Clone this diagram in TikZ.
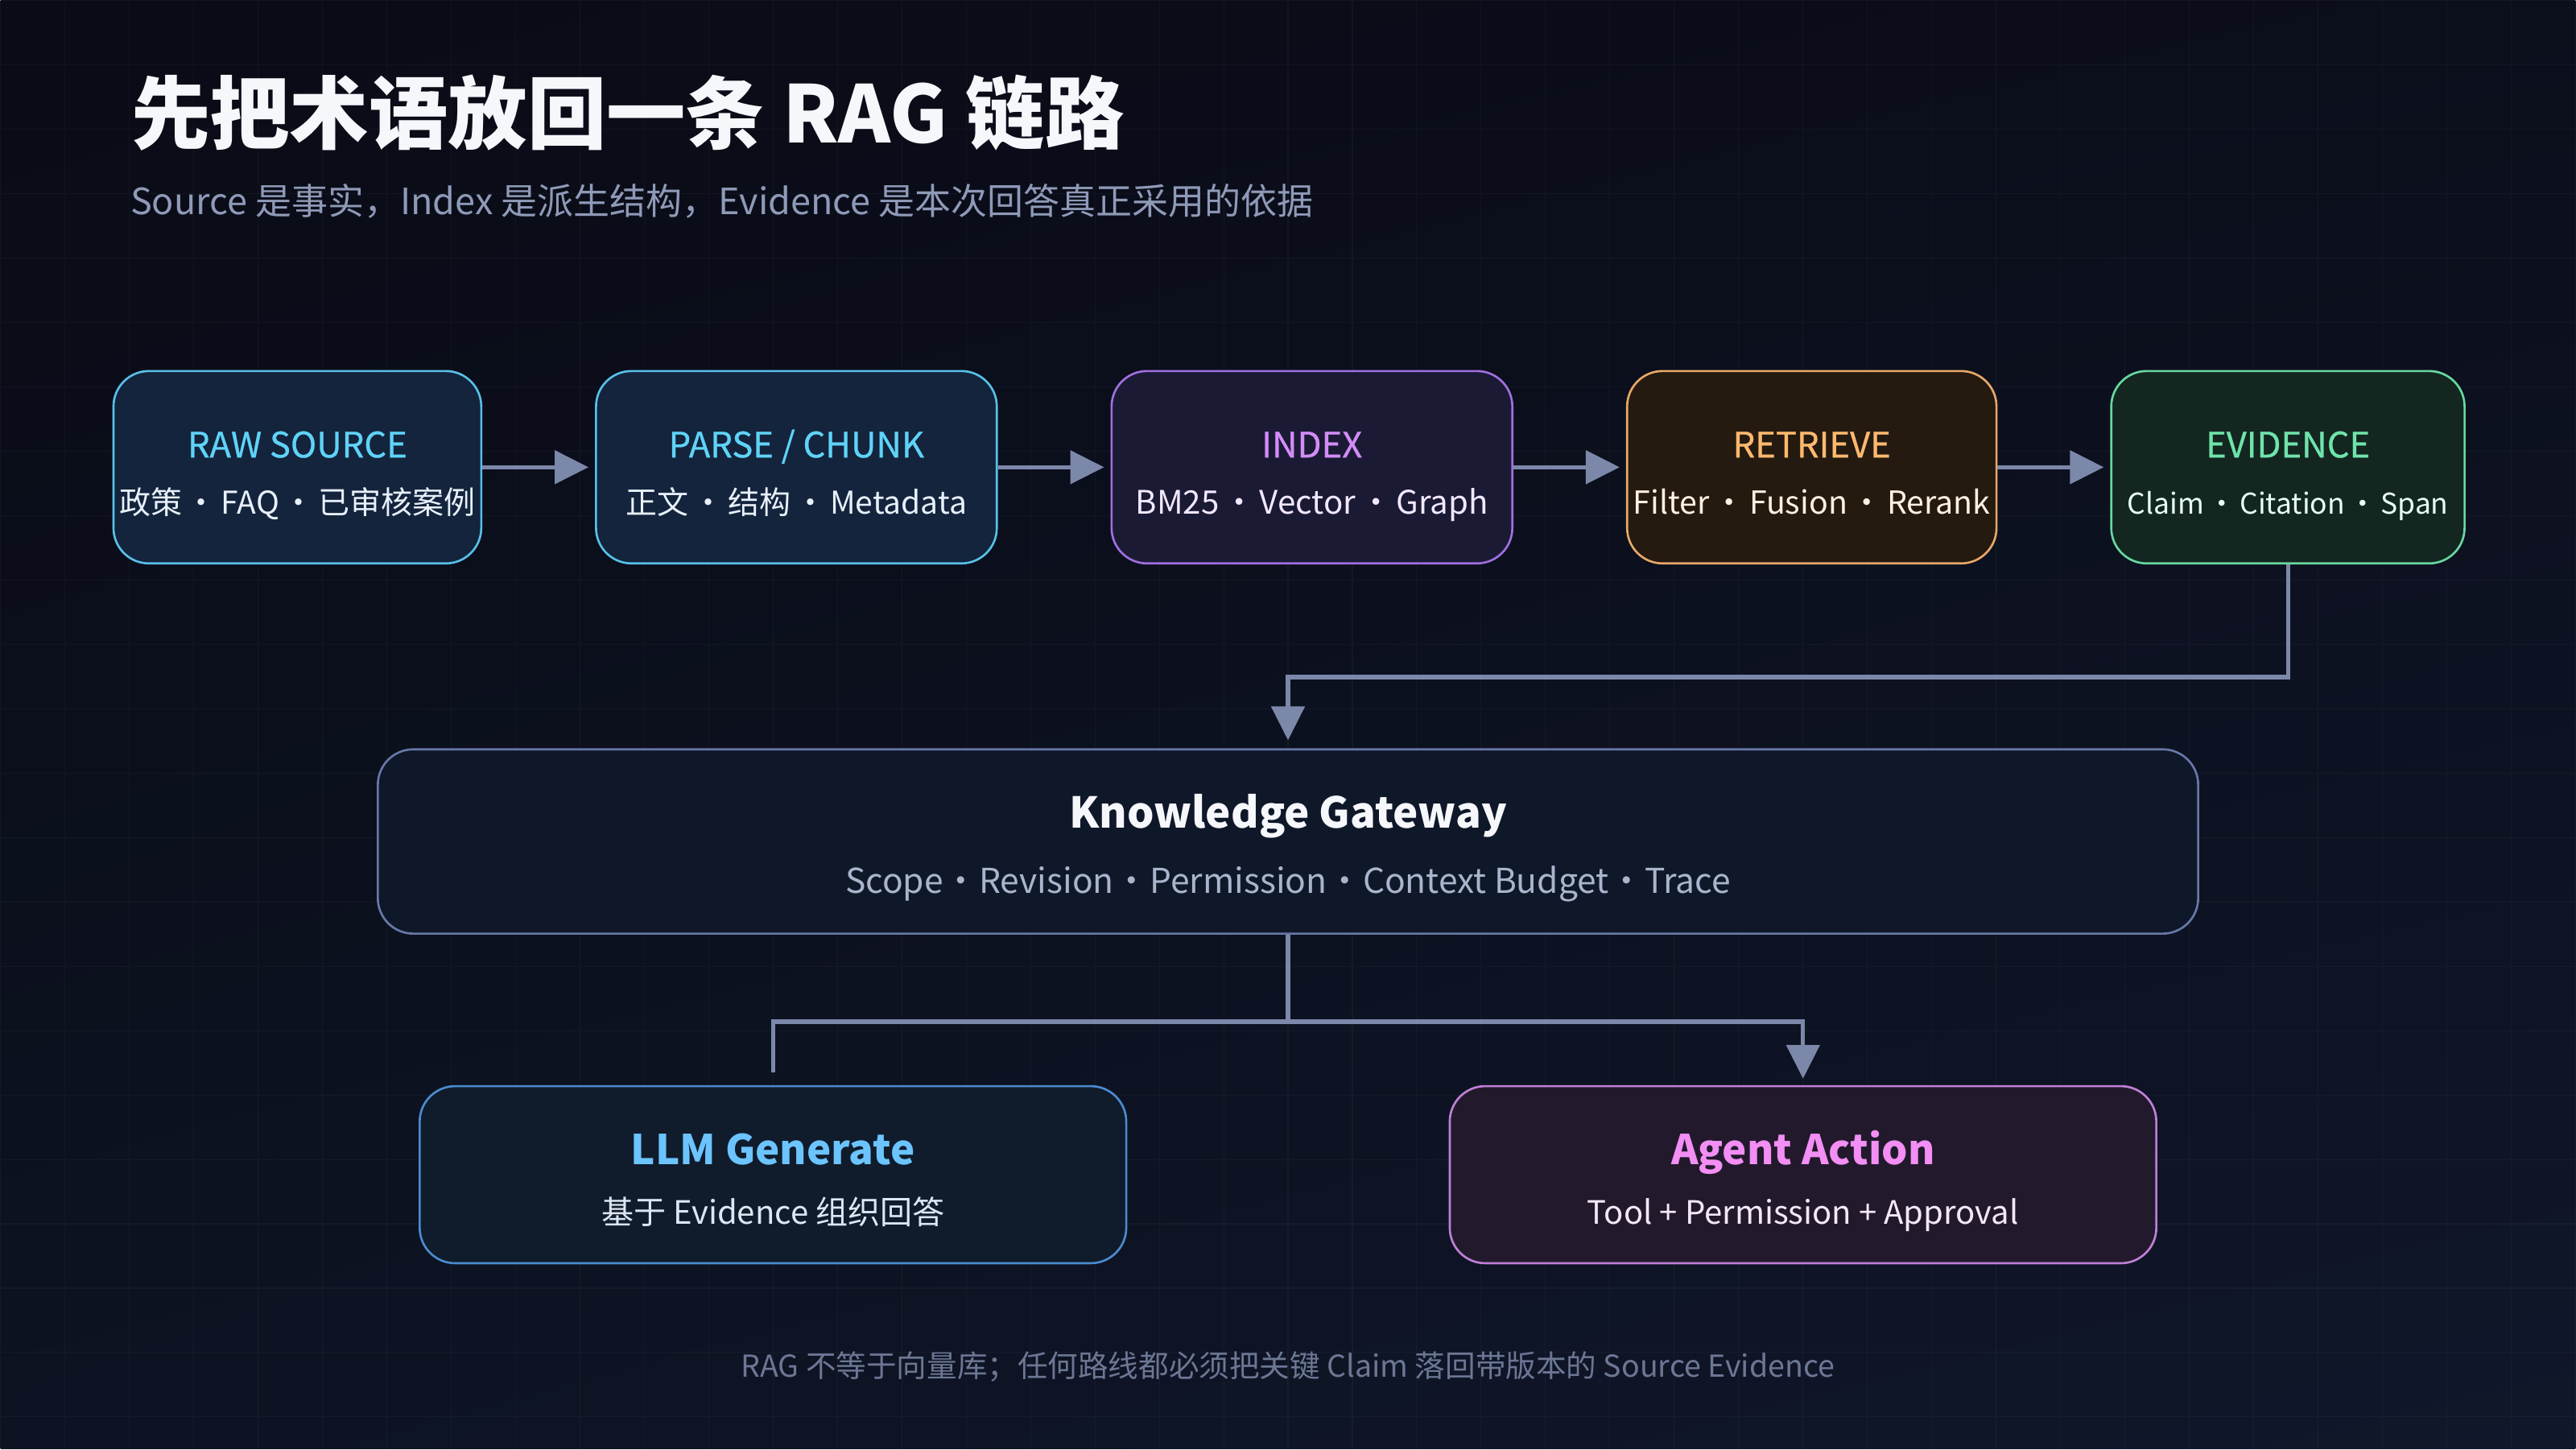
\documentclass[tikz,border=0pt]{standalone}
\usepackage{fontspec}
\setmainfont{Noto Sans CJK SC}
\newfontfamily\heavyish{Noto Sans CJK SC}[FakeBold=0.6]
\usetikzlibrary{arrows.meta,positioning,shadings}

\definecolor{bgtl}{HTML}{090B15}
\definecolor{bgtr}{HTML}{0B0E1B}
\definecolor{bgbl}{HTML}{0D1322}
\definecolor{bgbr}{HTML}{10172A}
\definecolor{linkc}{HTML}{7C88AA}
\definecolor{headc}{HTML}{F5F7FB}
\definecolor{subc}{HTML}{8F9AB8}
\definecolor{notec}{HTML}{6C7794}
\definecolor{cyanline}{HTML}{58C0E8}
\definecolor{cyanfill}{HTML}{13243C}
\definecolor{cyantext}{HTML}{5FD3F7}
\definecolor{cyansub}{HTML}{E8F0FA}
\definecolor{violetline}{HTML}{A070E0}
\definecolor{violetfill}{HTML}{1B1A35}
\definecolor{violettext}{HTML}{D38CF7}
\definecolor{violetsub}{HTML}{F1E8FF}
\definecolor{amberline}{HTML}{E8A868}
\definecolor{amberfill}{HTML}{241A10}
\definecolor{ambertext}{HTML}{FFB96E}
\definecolor{ambersub}{HTML}{FFF1E0}
\definecolor{mintline}{HTML}{68D8A0}
\definecolor{mintfill}{HTML}{132620}
\definecolor{minttext}{HTML}{6FE3AB}
\definecolor{mintsub}{HTML}{E8FFF2}
\definecolor{gateline}{HTML}{6878A8}
\definecolor{gatefill}{HTML}{0F1829}
\definecolor{gatesub}{HTML}{AAB4CC}
\definecolor{llmline}{HTML}{4A8CD0}
\definecolor{llmfill}{HTML}{101C2C}
\definecolor{llmtext}{HTML}{6CC4FF}
\definecolor{llmsub}{HTML}{DDE6F2}
\definecolor{agentline}{HTML}{C080D8}
\definecolor{agentfill}{HTML}{221A2C}
\definecolor{agenttext}{HTML}{F28EF4}
\definecolor{agentsub}{HTML}{F4E8F8}

\newcommand\dotsep[1][1.25em]{\makebox[#1]{·}}
\newcommand\stagehead[1]{\rule{0pt}{14.5pt}\fontsize{12.4}{20}\selectfont\heavyish\color{#1}}

\tikzset{
  stage/.style={draw, line width=0.75pt, rounded corners=0.44cm, minimum height=2.39cm,
    align=center, inner sep=0pt, text depth=1.4pt, font=\fontsize{11}{20}\selectfont},
  hub/.style={stage, minimum height=2.29cm, font=\fontsize{12.1}{23}\selectfont},
  sink/.style={stage, minimum width=8.78cm, minimum height=2.20cm, font=\fontsize{11.4}{21}\selectfont},
  link/.style={line width=1.5pt, draw=linkc},
  flow/.style={link, -{Triangle[length=0.42cm,width=0.41cm]}},
}

\begin{document}
\begin{tikzpicture}
\shade[upper left=bgtl, upper right=bgtr, lower left=bgbl, lower right=bgbr] (0,0) rectangle (32,-18);
\draw[white, opacity=0.035, line width=0.3pt] (0,0) grid[step=0.8] (32,-18);
\useasboundingbox (0,0) rectangle (32,-18);

\node[anchor=west, inner sep=0pt, headc, font=\fontsize{28}{34}\selectfont\bfseries] (title) at (1.62,-1.40) {先把术语放回一条 RAG 链路};
\node[anchor=west, inner sep=0pt, subc, font=\fontsize{12.8}{16}\selectfont] (subtitle) at (1.61,-2.49) {Source 是事实，Index 是派生结构，Evidence 是本次回答真正采用的依据};

% pipeline
\node[stage, draw=cyanline, fill=cyanfill, minimum width=4.57cm, font=\fontsize{11.1}{20}\selectfont] (raw) at (3.69,-5.80)
  {{\stagehead{cyantext}RAW SOURCE}\\{\color{cyansub}政策\dotsep FAQ\dotsep 已审核案例}};
\node[stage, draw=cyanline, fill=cyanfill, minimum width=4.98cm, font=\fontsize{11.1}{20}\selectfont, right=1.40cm of raw] (parse)
  {{\stagehead{cyantext}PARSE / CHUNK}\\{\color{cyansub}正文\dotsep 结构\dotsep Metadata}};
\node[stage, draw=violetline, fill=violetfill, minimum width=4.98cm, font=\fontsize{11.45}{20}\selectfont, right=1.40cm of parse] (index)
  {{\stagehead{violettext}INDEX}\\{\color{violetsub}BM25\dotsep Vector\dotsep Graph}};
\node[stage, draw=amberline, fill=amberfill, minimum width=4.59cm, font=\fontsize{11.2}{20}\selectfont, right=1.40cm of index] (retrieve)
  {{\stagehead{ambertext}RETRIEVE}\\{\color{ambersub}Filter\dotsep Fusion\dotsep Rerank}};
\node[stage, draw=mintline, fill=mintfill, minimum width=4.39cm, font=\fontsize{10.1}{20}\selectfont, right=1.40cm of retrieve] (evidence)
  {{\stagehead{minttext}EVIDENCE}\\{\color{mintsub}Claim\dotsep Citation\dotsep Span}};

\draw[flow, shorten >=0.08cm] (raw) -- (parse);
\draw[flow, shorten >=0.08cm] (parse) -- (index);
\draw[flow, shorten >=0.08cm] (index) -- (retrieve);
\draw[flow, shorten >=0.08cm] (retrieve) -- (evidence);

% gateway
\node[hub, draw=gateline, fill=gatefill, minimum width=22.62cm] (gateway) at (16.0,-10.45)
  {{\rule{0pt}{14.8pt}\fontsize{15}{23}\selectfont\bfseries\color{headc}Knowledge Gateway}\\{\color{gatesub}Scope\dotsep[1.05em]Revision\dotsep[1.05em]Permission\dotsep[1.05em]Context Budget\dotsep[1.05em]Trace}};
\draw[flow, shorten >=0.1cm] (evidence.south) -- ++(0,-1.40) -| (gateway.north);

% consumers
\node[sink, draw=llmline, fill=llmfill] (llm) at (9.60,-14.59)
  {{\rule{0pt}{15.2pt}\fontsize{14.5}{21}\selectfont\bfseries\color{llmtext}LLM Generate}\\{\color{llmsub}基于 Evidence 组织回答}};
\node[sink, draw=agentline, fill=agentfill] (agent) at (22.40,-14.59)
  {{\rule{0pt}{15.2pt}\fontsize{14.5}{21}\selectfont\bfseries\color{agenttext}Agent Action}\\{\color{agentsub}Tool + Permission + Approval}};

\draw[link] (gateway.south) -- ++(0,-1.08) coordinate (split);
\draw[link, shorten >=0.16cm] (split) -| (llm.north);
\draw[flow, shorten >=0.08cm] (split) -| (agent.north);

\node[notec, font=\fontsize{10.7}{13}\selectfont] (note) at (16.0,-16.98)
  {RAG 不等于向量库；任何路线都必须把关键 Claim 落回带版本的 Source Evidence};
\end{tikzpicture}
\end{document}
